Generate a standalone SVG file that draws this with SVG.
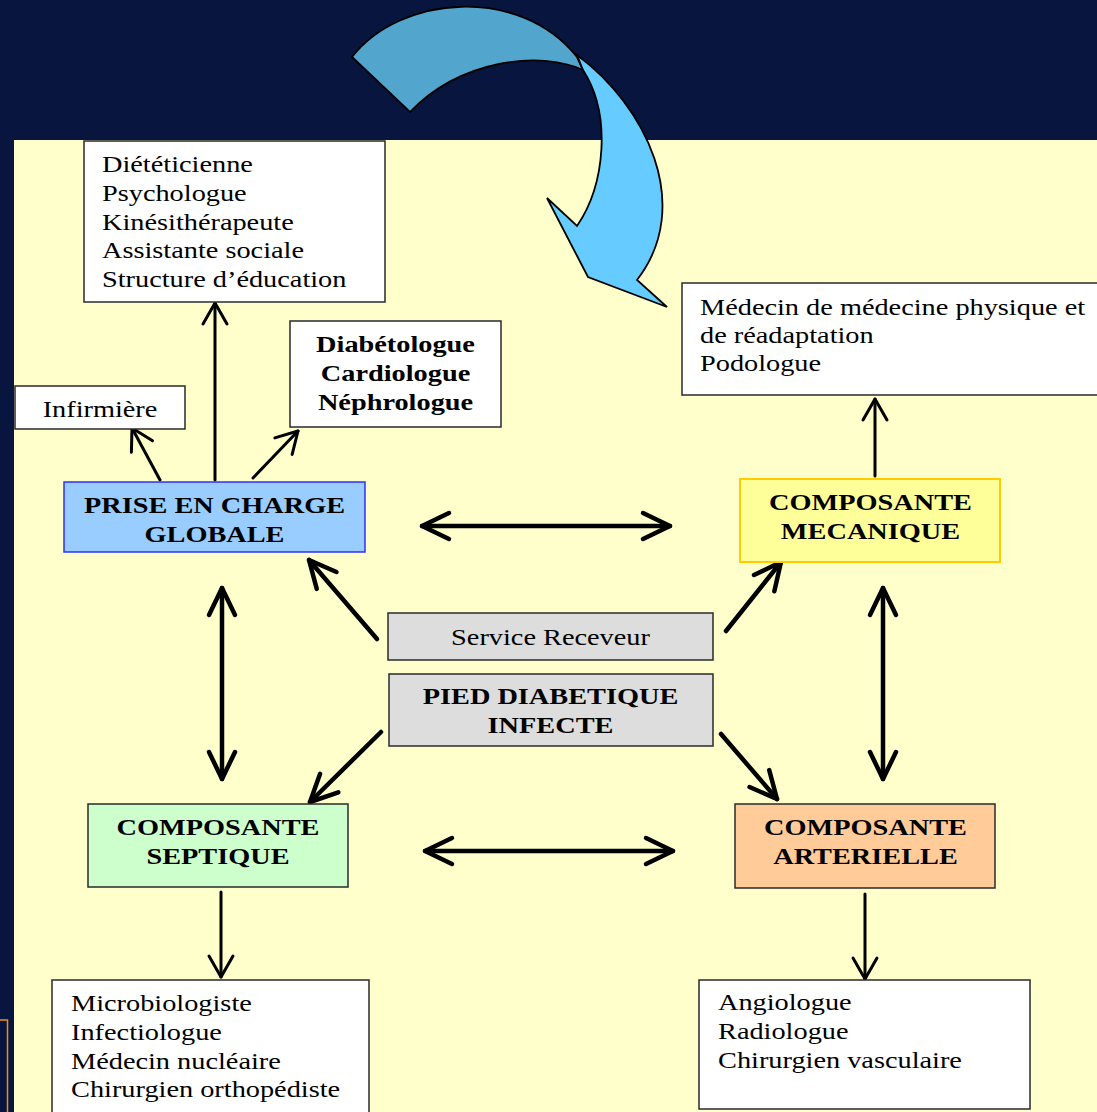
<svg xmlns="http://www.w3.org/2000/svg" width="1097" height="1112" viewBox="0 0 1097 1112">
<style>
.t{font-family:"Liberation Serif","Times New Roman",serif;font-size:24px;fill:#000}
.b{font-weight:bold}
.box{stroke:#2a2a2a;stroke-width:1.5}
.wbox{fill:#fff;stroke:#2a2a2a;stroke-width:1.5}
.thick{stroke:#000;stroke-width:4.5;fill:none;stroke-linecap:round}
.thin{stroke:#000;stroke-width:3;fill:none;stroke-linecap:round}
</style>
<defs>
<marker id="ah" markerUnits="userSpaceOnUse" orient="auto-start-reverse" overflow="visible" markerWidth="1" markerHeight="1" refX="0" refY="0">
<path d="M-27,-13 L0,0 L-27,13" fill="none" stroke="#000" stroke-width="4.5" stroke-linecap="round" stroke-linejoin="round"/>
</marker>
<marker id="ahs" markerUnits="userSpaceOnUse" orient="auto-start-reverse" overflow="visible" markerWidth="1" markerHeight="1" refX="0" refY="0">
<path d="M-21,-12 L0,0 L-21,12" fill="none" stroke="#000" stroke-width="3" stroke-linecap="round" stroke-linejoin="round"/>
</marker>
</defs>
<rect x="0" y="0" width="1097" height="1112" fill="#08163f"/>
<rect x="14" y="140" width="1083" height="972" fill="#ffffcc"/>
<rect x="-10" y="1020" width="17.5" height="100" fill="none" stroke="#f0900a" stroke-width="1.5"/>

<g id="curved-arrow" stroke="#000" stroke-width="1.8" stroke-linejoin="miter">
<path d="M352,57 C400,-5 520,-15 577,57 L583,70 C540,50 460,60 410,112 Z" fill="#52a5cc"/>
<path d="M577,55 C645,105 695,205 637,280 L667,307 L588,277 L547,198 L577,226 C605,185 612,115 583,70 Z" fill="#66ccff"/>
</g>

<g id="connectors">
<line class="thick" x1="422" y1="526" x2="670" y2="526" marker-start="url(#ah)" marker-end="url(#ah)"/>
<line class="thick" x1="425" y1="851" x2="673" y2="851" marker-start="url(#ah)" marker-end="url(#ah)"/>
<line class="thick" x1="222" y1="588" x2="222" y2="779" marker-start="url(#ah)" marker-end="url(#ah)"/>
<line class="thick" x1="883" y1="588" x2="883" y2="779" marker-start="url(#ah)" marker-end="url(#ah)"/>
<line class="thick" x1="377" y1="639" x2="309" y2="560" marker-end="url(#ah)"/>
<line class="thick" x1="726" y1="631" x2="781" y2="562" marker-end="url(#ah)"/>
<line class="thick" x1="381" y1="732" x2="310" y2="802" marker-end="url(#ah)"/>
<line class="thick" x1="721" y1="734" x2="777" y2="799" marker-end="url(#ah)"/>
<line class="thin" x1="215" y1="480" x2="215" y2="303" marker-end="url(#ahs)"/>
<line class="thin" x1="160" y1="480" x2="132" y2="428" marker-end="url(#ahs)"/>
<line class="thin" x1="253" y1="478" x2="298" y2="431" marker-end="url(#ahs)"/>
<line class="thin" x1="875" y1="476" x2="875" y2="399" marker-end="url(#ahs)"/>
<line class="thin" x1="221" y1="892" x2="221" y2="977" marker-end="url(#ahs)"/>
<line class="thin" x1="865" y1="894" x2="865" y2="979" marker-end="url(#ahs)"/>
</g>

<g id="node-paramedical">
<rect class="wbox" x="84" y="141" width="301" height="161"/>
<g transform="translate(102,0) scale(1.18,1)">
<text class="t" x="0" y="172">Diététicienne</text>
<text class="t" x="0" y="201">Psychologue</text>
<text class="t" x="0" y="230">Kinésithérapeute</text>
<text class="t" x="0" y="258">Assistante sociale</text>
<text class="t" x="0" y="287">Structure d’éducation</text>
</g>
</g>

<g id="node-specialistes">
<rect class="wbox" x="290" y="321" width="211" height="106"/>
<g transform="translate(395.5,0) scale(1.18,1)">
<text class="t b" text-anchor="middle" x="0" y="352">Diabétologue</text>
<text class="t b" text-anchor="middle" x="0" y="381">Cardiologue</text>
<text class="t b" text-anchor="middle" x="0" y="410">Néphrologue</text>
</g>
</g>

<g id="node-infirmiere">
<rect class="wbox" x="15" y="386" width="170" height="43"/>
<g transform="translate(100,0) scale(1.18,1)">
<text class="t" text-anchor="middle" x="0" y="417">Infirmière</text>
</g>
</g>

<g id="node-prise">
<rect x="64" y="482" width="301" height="70" fill="#99ccff" stroke="#2f2fff" stroke-width="1.5"/>
<g transform="translate(214.5,0) scale(1.18,1)">
<text class="t b" text-anchor="middle" x="0" y="513">PRISE EN CHARGE</text>
<text class="t b" text-anchor="middle" x="0" y="542.5">GLOBALE</text>
</g>
</g>

<g id="node-readaptation">
<rect class="wbox" x="682" y="283" width="430" height="112"/>
<g transform="translate(700,0) scale(1.18,1)">
<text class="t" x="0" y="315">Médecin de médecine physique et</text>
<text class="t" x="0" y="343">de réadaptation</text>
<text class="t" x="0" y="371">Podologue</text>
</g>
</g>

<g id="node-mecanique">
<rect x="740" y="479" width="260" height="83" fill="#ffff99" stroke="#ffcc00" stroke-width="2"/>
<g transform="translate(870.5,0) scale(1.18,1)">
<text class="t b" text-anchor="middle" x="0" y="510.5">COMPOSANTE</text>
<text class="t b" text-anchor="middle" x="0" y="539.5">MECANIQUE</text>
</g>
</g>

<g id="node-service">
<rect class="box" x="388" y="613" width="325" height="47" fill="#dddddd"/>
<g transform="translate(550.5,0) scale(1.18,1)">
<text class="t" text-anchor="middle" x="0" y="645">Service Receveur</text>
</g>
</g>

<g id="node-pied">
<rect class="box" x="389" y="674" width="324" height="72" fill="#dddddd"/>
<g transform="translate(550.5,0) scale(1.18,1)">
<text class="t b" text-anchor="middle" x="0" y="704">PIED DIABETIQUE</text>
<text class="t b" text-anchor="middle" x="0" y="733">INFECTE</text>
</g>
</g>

<g id="node-septique">
<rect class="box" x="88" y="804" width="260" height="83" fill="#ccffcc"/>
<g transform="translate(218,0) scale(1.18,1)">
<text class="t b" text-anchor="middle" x="0" y="835">COMPOSANTE</text>
<text class="t b" text-anchor="middle" x="0" y="864">SEPTIQUE</text>
</g>
</g>

<g id="node-arterielle">
<rect class="box" x="735" y="804" width="260" height="84" fill="#ffcc99"/>
<g transform="translate(865.5,0) scale(1.18,1)">
<text class="t b" text-anchor="middle" x="0" y="835">COMPOSANTE</text>
<text class="t b" text-anchor="middle" x="0" y="864">ARTERIELLE</text>
</g>
</g>

<g id="node-infectieux">
<rect class="wbox" x="52" y="980" width="317" height="145"/>
<g transform="translate(71,0) scale(1.18,1)">
<text class="t" x="0" y="1011">Microbiologiste</text>
<text class="t" x="0" y="1040">Infectiologue</text>
<text class="t" x="0" y="1069">Médecin nucléaire</text>
<text class="t" x="0" y="1097">Chirurgien orthopédiste</text>
</g>
</g>

<g id="node-vasculaire">
<rect class="wbox" x="699" y="980" width="331" height="129"/>
<g transform="translate(718,0) scale(1.18,1)">
<text class="t" x="0" y="1010">Angiologue</text>
<text class="t" x="0" y="1039">Radiologue</text>
<text class="t" x="0" y="1068">Chirurgien vasculaire</text>
</g>
</g>
</svg>
